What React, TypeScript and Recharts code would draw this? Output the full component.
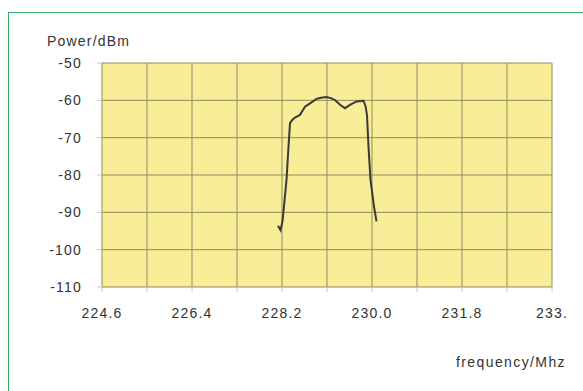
import React from 'react';
import { LineChart, Line, XAxis, YAxis, CartesianGrid } from 'recharts';

// frequency in MHz, power in dBm
const frequencies = [
  228.12, 228.17, 228.21, 228.25, 228.29, 228.33, 228.36, 228.41, 228.46, 228.56,
  228.66, 228.76, 228.89, 228.98, 229.09, 229.18, 229.26, 229.36, 229.46, 229.56,
  229.69, 229.83, 229.87, 229.9, 229.93, 229.97, 230.04, 230.09,
];
const powers = [
  -93.6, -94.8, -92.4, -87, -81.3, -72.4, -66.1, -65.2, -64.6, -63.9,
  -61.7, -60.8, -59.6, -59.3, -59.1, -59.4, -59.9, -61.2, -62.1, -61.2,
  -60.3, -60.1, -61.5, -64, -72.4, -81.3, -88.4, -92.4,
];

const xTicks = [224.6, 225.5, 226.4, 227.3, 228.2, 229.1, 230.0, 230.9, 231.8, 232.7, 233.6];
const xTickLabels = ['224.6', '', '226.4', '', '228.2', '', '230.0', '', '231.8', '', '233.'];
const yTicks = [-110, -100, -90, -80, -70, -60, -50];

const data = frequencies.map((f, i) => ({ freq: f, power: powers[i] }));

const font = '"Liberation Sans", Arial, sans-serif';

const App: React.FC = () => {
  return (
    <div
      style={{
        position: 'absolute',
        left: 0,
        top: 0,
        width: 583,
        height: 391,
        background: '#fff',
        overflow: 'hidden',
        fontFamily: font,
      }}
    >
      <div
        style={{
          position: 'absolute',
          left: 8,
          top: 12,
          width: 600,
          height: 400,
          borderTop: '1.5px solid #34a96b',
          borderLeft: '1.5px solid #34a96b',
        }}
      />
      <div
        style={{
          position: 'absolute',
          left: 47,
          top: 33,
          fontSize: 14,
          letterSpacing: 1.2,
          color: '#333',
        }}
      >
        Power/dBm
      </div>
      <div
        style={{
          position: 'absolute',
          left: 456,
          top: 354,
          fontSize: 14,
          letterSpacing: 1.4,
          color: '#333',
        }}
      >
        frequency/Mhz
      </div>
      <div style={{ position: 'absolute', left: 0, top: 0 }}>
        <LineChart
          width={583}
          height={391}
          data={data}
          margin={{ top: 63, right: 31, left: 0, bottom: 74 }}
        >
          <CartesianGrid
            stroke="#8f8b60"
            strokeWidth={1}
            fill="#f8ee97"
            fillOpacity={1}
          />
          <XAxis
            type="number"
            dataKey="freq"
            domain={[224.6, 233.6]}
            ticks={xTicks}
            interval={0}
            tickFormatter={(v, i) => xTickLabels[i] ?? ''}
            axisLine={false}
            tickLine={{ stroke: '#c8c8c8' }}
            tickSize={5}
            tickMargin={16}
            height={30}
            tick={{ fill: '#333', fontSize: 14, fontFamily: font, letterSpacing: 1.2 }}
          />
          <YAxis
            type="number"
            domain={[-110, -50]}
            ticks={yTicks}
            interval={0}
            axisLine={false}
            tickLine={{ stroke: '#c8c8c8' }}
            tickSize={5}
            tickMargin={15}
            width={102}
            tick={{ fill: '#333', fontSize: 14, fontFamily: font, letterSpacing: 1.2 }}
          />
          <Line
            type="linear"
            dataKey="power"
            stroke="#3b3a36"
            strokeWidth={2}
            dot={false}
            isAnimationActive={false}
          />
        </LineChart>
      </div>
    </div>
  );
};

export default App;
